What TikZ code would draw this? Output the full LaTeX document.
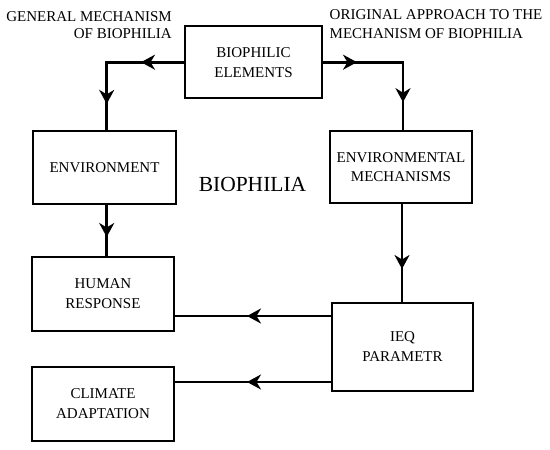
\documentclass[tikz,border=0pt]{standalone}
\usepackage{fontspec}
\setmainfont{Liberation Serif}
\usetikzlibrary{arrows.meta,decorations.markings}
\tikzset{
  mytip/.tip={Stealth[length=14pt,width=15pt,inset=4.5pt]},
  box/.style={draw, line width=2pt, align=center, inner sep=0pt,
    font=\fontsize{15}{20}\selectfont},
  lbl/.style={inner sep=0pt, font=\fontsize{15}{17}\selectfont},
  conn/.style={line width=2.6pt, postaction={decorate}},
  marks/.style 2 args={decoration={markings,
    mark=at position #1 with {\arrow{mytip}},
    mark=at position #2 with {\arrow{mytip}}}},
  mark1/.style={decoration={markings,
    mark=at position #1 with {\arrow{mytip}}}}
}
\begin{document}
\begin{tikzpicture}[x=1pt,y=-1pt]
\useasboundingbox (0,0) rectangle (550,450);
% boxes
\node[box, minimum width=137pt, minimum height=72.5pt] (bio) at (253.5,62.2) {BIOPHILIC\\ELEMENTS};
\node[box, minimum width=143pt, minimum height=73pt] (env) at (104.5,167.5) {ENVIRONMENT};
\node[box, minimum width=142pt, minimum height=72pt, font=\fontsize{15}{19}\selectfont] (mech) at (401,167) {ENVIRONMENTAL\\MECHANISMS};
\node[box, minimum width=142pt, minimum height=74pt] (human) at (103,294) {HUMAN\\RESPONSE};
\node[box, minimum width=141pt, minimum height=88pt] (ieq) at (402.5,347) {IEQ\\PARAMETR};
\node[box, minimum width=142pt, minimum height=74pt] (clim) at (103,404) {CLIMATE\\ADAPTATION};
% labels
\node[lbl, anchor=base east] (tl1) at (172,21) {GENERAL MECHANISM};
\node[lbl, anchor=base east] (tl2) at (172,38.3) {OF BIOPHILIA};
\node[lbl, anchor=base west] (tr1) at (329.5,19) {ORIGINAL APPROACH TO THE};
\node[lbl, anchor=base west] (tr2) at (329.5,38.3) {MECHANISM OF BIOPHILIA};
\node[inner sep=0pt, anchor=base, font=\fontsize{21.5}{24}\selectfont] (bp) at (252.5,191.7) {BIOPHILIA};
% connectors
\draw[conn, marks={43pt}{119pt}] (bio.west) -| ([xshift=2.2pt]env.north);
\draw[conn, marks={34pt}{120pt}] (bio.east) -| ([xshift=2pt]mech.north);
\draw[conn, mark1={32pt}] ([xshift=2.2pt]env.south) -- ([xshift=2.2pt]env.south |- human.north);
\draw[conn, mark1={65pt}] ([xshift=1pt]mech.south) -- ([xshift=1pt]mech.south |- ieq.north);
\draw[conn, mark1={84pt}] ([yshift=31pt]ieq.west) -- ([yshift=31pt]ieq.west -| human.east);
\draw[conn, mark1={84pt}] ([yshift=-35pt]ieq.west) -- ([yshift=-35pt]ieq.west -| clim.east);
\end{tikzpicture}
\end{document}
